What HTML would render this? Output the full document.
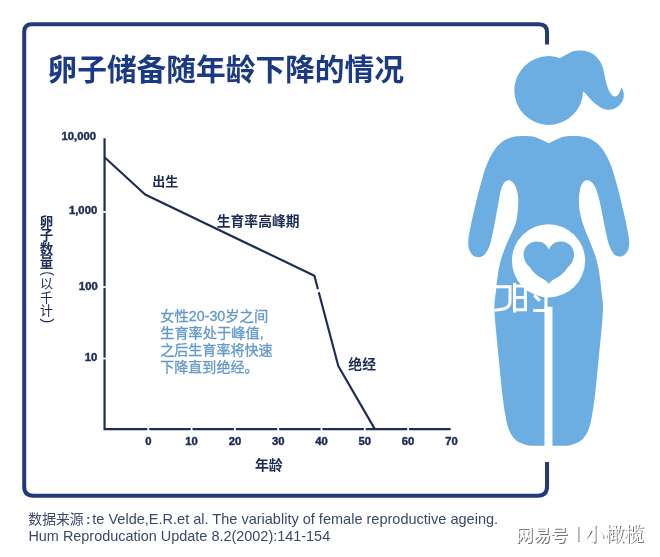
<!DOCTYPE html>
<html lang="zh">
<head>
<meta charset="utf-8">
<title>卵子储备随年龄下降的情况</title>
<style>
html,body{margin:0;padding:0;background:#fff;}
body{width:660px;height:557px;overflow:hidden;font-family:"Liberation Sans",sans-serif;}
svg{display:block;position:absolute;left:0;top:0;will-change:transform;}
</style>
</head>
<body>
<svg width="660" height="557" viewBox="0 0 660 557">
<rect width="660" height="557" fill="#fff"/>
<path fill="none" stroke="#22397b" stroke-width="4" d="M547.05 44.5V32.3Q547.05 24.3 539.05 24.3H31.8Q24.2 24.3 24.2 31.9V486.6Q24.2 495.8 33.4 495.8H537.85Q547.05 495.8 547.05 486.6V461.9"/>
<g><text x="47.5" y="80" font-family="'Liberation Sans','Noto Sans CJK SC',sans-serif" font-weight="700" font-size="29.7" fill="#1c3a84" textLength="356.5" lengthAdjust="spacingAndGlyphs">卵子储备随年龄下降的情况</text></g>
<path fill="none" stroke="#1f2c4e" stroke-width="2.2" stroke-linejoin="miter" d="M104.55 138.2V429.2H450.6"/>
<path fill="none" stroke="#1d2b55" stroke-width="2.15" stroke-linejoin="round" d="M104.55 157.2L145.1 194.5L314.4 275.7L338.3 366L375 429.4"/>
<path stroke="#fff" stroke-width="3.2" d="M314.6 292.6L322.4 288.6"/>
<rect x="102.05" y="211.15" width="5" height="1.7" fill="#fff"/>
<rect x="102.05" y="286.15" width="5" height="1.7" fill="#fff"/>
<rect x="102.05" y="357.65" width="5" height="1.7" fill="#fff"/>
<rect x="147.4" y="426.7" width="1.8" height="5" fill="#fff"/>
<rect x="190.7" y="426.7" width="1.8" height="5" fill="#fff"/>
<rect x="234.0" y="426.7" width="1.8" height="5" fill="#fff"/>
<rect x="277.3" y="426.7" width="1.8" height="5" fill="#fff"/>
<rect x="320.6" y="426.7" width="1.8" height="5" fill="#fff"/>
<rect x="363.9" y="426.7" width="1.8" height="5" fill="#fff"/>
<rect x="407.2" y="426.7" width="1.8" height="5" fill="#fff"/>
<g font-family="'Liberation Sans', sans-serif" font-weight="700" font-size="10" fill="#1d2b55" stroke="#1d2b55" stroke-width="0.4">
<text transform="translate(96.0,139.8) scale(1.13,1)" text-anchor="end">10,000</text>
<text transform="translate(97.2,214.3) scale(1.13,1)" text-anchor="end">1,000</text>
<text transform="translate(97.7,290.1) scale(1.13,1)" text-anchor="end">100</text>
<text transform="translate(97.4,361.4) scale(1.13,1)" text-anchor="end">10</text>
<text transform="translate(148.3,445.0) scale(1.13,1)" text-anchor="middle">0</text>
<text transform="translate(191.6,445.0) scale(1.13,1)" text-anchor="middle">10</text>
<text transform="translate(234.9,445.0) scale(1.13,1)" text-anchor="middle">20</text>
<text transform="translate(278.2,445.0) scale(1.13,1)" text-anchor="middle">30</text>
<text transform="translate(321.5,445.0) scale(1.13,1)" text-anchor="middle">40</text>
<text transform="translate(364.8,445.0) scale(1.13,1)" text-anchor="middle">50</text>
<text transform="translate(408.1,445.0) scale(1.13,1)" text-anchor="middle">60</text>
<text transform="translate(451.4,445.0) scale(1.13,1)" text-anchor="middle">70</text>
</g>
<g font-family="'Liberation Sans','Noto Sans CJK SC',sans-serif" font-weight="700" fill="#1d2b55">
<text x="152.3" y="186" font-size="13" textLength="26" lengthAdjust="spacingAndGlyphs">出生</text>
<text x="216.8" y="226.3" font-size="13.8" textLength="82.7" lengthAdjust="spacingAndGlyphs">生育率高峰期</text>
<text x="348.3" y="369.4" font-size="14" textLength="27.7" lengthAdjust="spacingAndGlyphs">绝经</text>
<text x="254.9" y="469.8" font-size="14" textLength="27.8" lengthAdjust="spacingAndGlyphs">年龄</text>
</g>
<g font-family="'Liberation Sans','Noto Sans CJK SC',sans-serif" font-size="13" fill="#1d2b55" text-anchor="middle">
<text font-weight="700" font-size="13.5"><tspan x="46.6" y="226.5">卵</tspan><tspan x="46.6" y="240">子</tspan><tspan x="46.6" y="253.7">数</tspan><tspan x="46.6" y="267.2">量</tspan></text>
<text><tspan x="46.6" y="288.3">以</tspan><tspan x="46.6" y="301.7">千</tspan><tspan x="46.6" y="315.1">计</tspan></text>
<text font-size="14" text-anchor="start" transform="translate(42.9,271.2) rotate(90)">(</text>
<text font-size="14" text-anchor="start" transform="translate(42.9,318.6) rotate(90)">)</text>
</g>
<g font-family="'Liberation Sans','Noto Sans CJK SC',sans-serif" font-size="14" fill="#6399c9" stroke="#6399c9" stroke-width="0.3">
<text x="160.2" y="320.6" textLength="108" lengthAdjust="spacingAndGlyphs">女性20-30岁之间</text>
<text x="160.2" y="337.8" textLength="103.4" lengthAdjust="spacingAndGlyphs">生育率处于峰值,</text>
<text x="160.2" y="355" textLength="112.4" lengthAdjust="spacingAndGlyphs">之后生育率将快速</text>
<text x="160.2" y="372.2" textLength="98.4" lengthAdjust="spacingAndGlyphs">下降直到绝经。</text>
</g>
<circle cx="548.7" cy="90.5" r="34.4" fill="#6cade2"/>
<path fill="#6cade2" d="M556 60C561 57.8 565 55 569.1 52.9C572 51.2 575.5 50.4 578.8 50.4C582.5 50.4 585.8 50.8 588.5 51.8C591.8 53 594.6 55 596.6 57.2C599.2 59.8 601 62.6 602.2 65.9C603.4 69 604 72.2 604.6 75.5C605.2 78.8 605.9 82 607 85.2C608 88.5 609.2 91.7 611.1 94.1C612.1 95.6 613.2 96.6 614.6 96.6C616.6 96.6 618.2 95.2 619.2 93.3C620.2 91.5 620.8 89.5 621.4 87.2C622.6 89 623.4 91 623.7 93.3C624 95.3 623.8 97.2 623.2 99C622.6 101.2 621.5 103 620 104.6C618.4 106.4 616.5 107.8 614.3 108.7C612.3 109.5 610.2 109.9 607.9 109.8C605 109.6 602.3 108.6 599.8 107C596.8 105.2 594.1 103 591.7 100.6C589.6 98.5 587.8 96.3 586 94.1C585.1 93.1 584.2 92.2 583.3 91.4L570 95Z"/>
<path fill="#6cade2" d="M550 143.3L548.7 143.3C544.5 141.5 540 138.6 535 137C530 135.8 523 135.8 517.5 136.3C511 137 505.5 139 501.3 142.6C497.2 146 494.5 149.5 492.3 153.3C488.5 160 485.6 167 483.3 174.9C480.6 184 478.2 193 476.2 201.8C474 211.5 471.6 221 469.9 230C469 234.5 468.3 238.5 468.2 242C468 247 469.2 251.2 471.6 254C473.4 256.2 476 257.3 478.8 257.2C481.8 257 484.4 255.4 486.2 252.6C488.4 249.4 490 245 491.2 240C492.6 234 493.8 228 495 222C496.2 215.5 497.2 209 498.4 203C499.2 198.6 499.8 194.6 500.8 190.6C501.8 186.4 503.6 182.6 506 181C507.6 180 509.6 180 511.2 181C513.8 182.6 515.6 186 516.6 189.2C517.8 193.2 518.4 197.6 518.3 201.8C518.3 206.8 517.9 211.6 517.1 216.2C516.6 220 515.8 223.2 514.6 226.4C513 230.4 511 234 509.3 238C506.6 244 504 250 502 256C500.2 262 498.8 268 498 273.9C497 280 496.4 286 495.9 291.8C495.2 297 494.4 301.6 494.4 306C494.4 314 495.2 322 496 330.5C496.9 340.6 498 351 499 361C500 371.2 500.9 381.6 502 391.6C503.2 402 504.6 412.4 506.6 422C507.6 426.6 509 430.8 511.2 434.4C513.8 438.8 517.6 442 522 443.5C525.6 445 529 445.8 533 445.8L550 445.8Z"/>
<path fill="#6cade2" d="M547.4 143.3L548.7 143.3C552.9 141.5 557.4 138.6 562.4 137C567.4 135.8 574.4 135.8 579.9 136.3C586.4 137 591.9 139 596.1 142.6C600.2 146 602.9 149.5 605.1 153.3C608.9 160 611.8 167 614.1 174.9C616.8 184 619.2 193 621.2 201.8C623.4 211.5 625.8 221 627.5 230C628.4 234.5 629.1 238.5 629.2 242C629.4 247 628.2 250.8 625.8 253.6C624 255.7 621.6 256.7 619 256.6C616.4 256.4 614 254.8 612.4 252C610.4 248.8 608.8 244.6 607.6 240C606.2 234 605 228 603.8 222C602.6 215.5 601.4 209 600 203C599 198.6 598 194.6 596.6 190.6C595.2 186.4 592.8 182.4 590 181C588.2 180 586 180 584.4 181C582.2 182.6 580.8 186 580 189.2C579.2 193.2 578.8 197.6 578.9 201.8C578.9 206.8 579.6 211.6 580.8 216.2C581.6 220 582.6 223.2 583.8 226.4C585.2 230.4 586.8 234 588.4 238C590.8 244 593.4 250 595.4 256C597.2 262 598.6 268 599.4 273.9C600.4 280 601 286 601.5 291.8C602.2 297 603 301.6 603 306C603 314 602.2 322 601.4 330.5C600.5 340.6 599.4 351 598.4 361C597.4 371.2 596.5 381.6 595.4 391.6C594.2 402 592.8 412.4 590.8 422C589.8 426.6 588.4 430.8 586.2 434.4C583.6 438.8 579.8 442 575.4 443.5C571.8 445 568.4 445.8 564.4 445.8L547.4 445.8Z"/>
<circle cx="548.5" cy="260.8" r="36.6" fill="#fff"/>
<rect x="544.45" y="306.8" width="8" height="143" fill="#fff"/>
<path fill="#6cade2" d="M548.85 249.6C550.4 245 555 241.5 560.9 241.5C568.3 241.5 574.05 247.2 574.05 254.4C574.05 259.6 571.6 263.9 567.6 267.4C565.6 270.6 561.4 275.6 555.8 278.2C552.8 279.6 550.4 281.6 548.85 283.9C547.3 281.6 544.9 279.6 541.9 278.2C536.3 275.6 532.1 270.6 530.1 267.4C526.1 263.9 523.65 259.6 523.65 254.4C523.65 247.2 529.4 241.5 536.8 241.5C542.7 241.5 547.3 245 548.85 249.6Z"/>
<g fill="none" stroke="#fff" stroke-width="3"><path d="M494 286.8H510V301.5C510 307.6 505 309.6 494.5 310.2"/><path d="M514.5 283V312.4M514.5 286H525.4V309.7H514.5M514.5 297.4H525.4"/><path stroke-width="3.1" stroke-linejoin="round" d="M545.95 292V310.5H533.2M534.2 295.2L539.8 300.8"/></g>
<g><text x="28.3" y="524.4" font-family="'Liberation Sans','Noto Sans CJK SC',sans-serif" font-size="14" fill="#3c4864" textLength="55.4" lengthAdjust="spacingAndGlyphs">数据来源</text></g>
<g font-family="'Liberation Sans', sans-serif" font-size="14.8" fill="#3c4864">
<text x="85.9" y="523.6" font-size="13.6" font-weight="700">:</text>
<text x="92.3" y="524.2" textLength="405.8" lengthAdjust="spacingAndGlyphs">te Velde,E.R.et al. The variablity of female reproductive ageing.</text>
<text x="28.4" y="541.4" textLength="301.8" lengthAdjust="spacingAndGlyphs">Hum Reproducation Update 8.2(2002):141-154</text>
</g>
<g fill="#747474" transform="translate(1,1)">
<text x="515.8" y="541" font-family="'Liberation Sans','Noto Sans CJK SC',sans-serif" font-weight="700" font-size="17.4" textLength="52" lengthAdjust="spacingAndGlyphs">网易号</text>
<text x="577.8" y="538.2" text-anchor="middle" font-family="'Liberation Sans',sans-serif" font-size="17">|</text>
<text x="585" y="541" font-family="'Liberation Serif','Noto Serif CJK SC',serif" font-size="19.6" textLength="59" lengthAdjust="spacingAndGlyphs">小橄榄</text>
</g>
<g fill="#fff">
<text x="515.8" y="541" font-family="'Liberation Sans','Noto Sans CJK SC',sans-serif" font-weight="700" font-size="17.4" textLength="52" lengthAdjust="spacingAndGlyphs">网易号</text>
<text x="577.8" y="538.2" text-anchor="middle" font-family="'Liberation Sans',sans-serif" font-size="17">|</text>
<text x="585" y="541" font-family="'Liberation Serif','Noto Serif CJK SC',serif" font-size="19.6" textLength="59" lengthAdjust="spacingAndGlyphs">小橄榄</text>
</g>
</svg>
</body>
</html>
